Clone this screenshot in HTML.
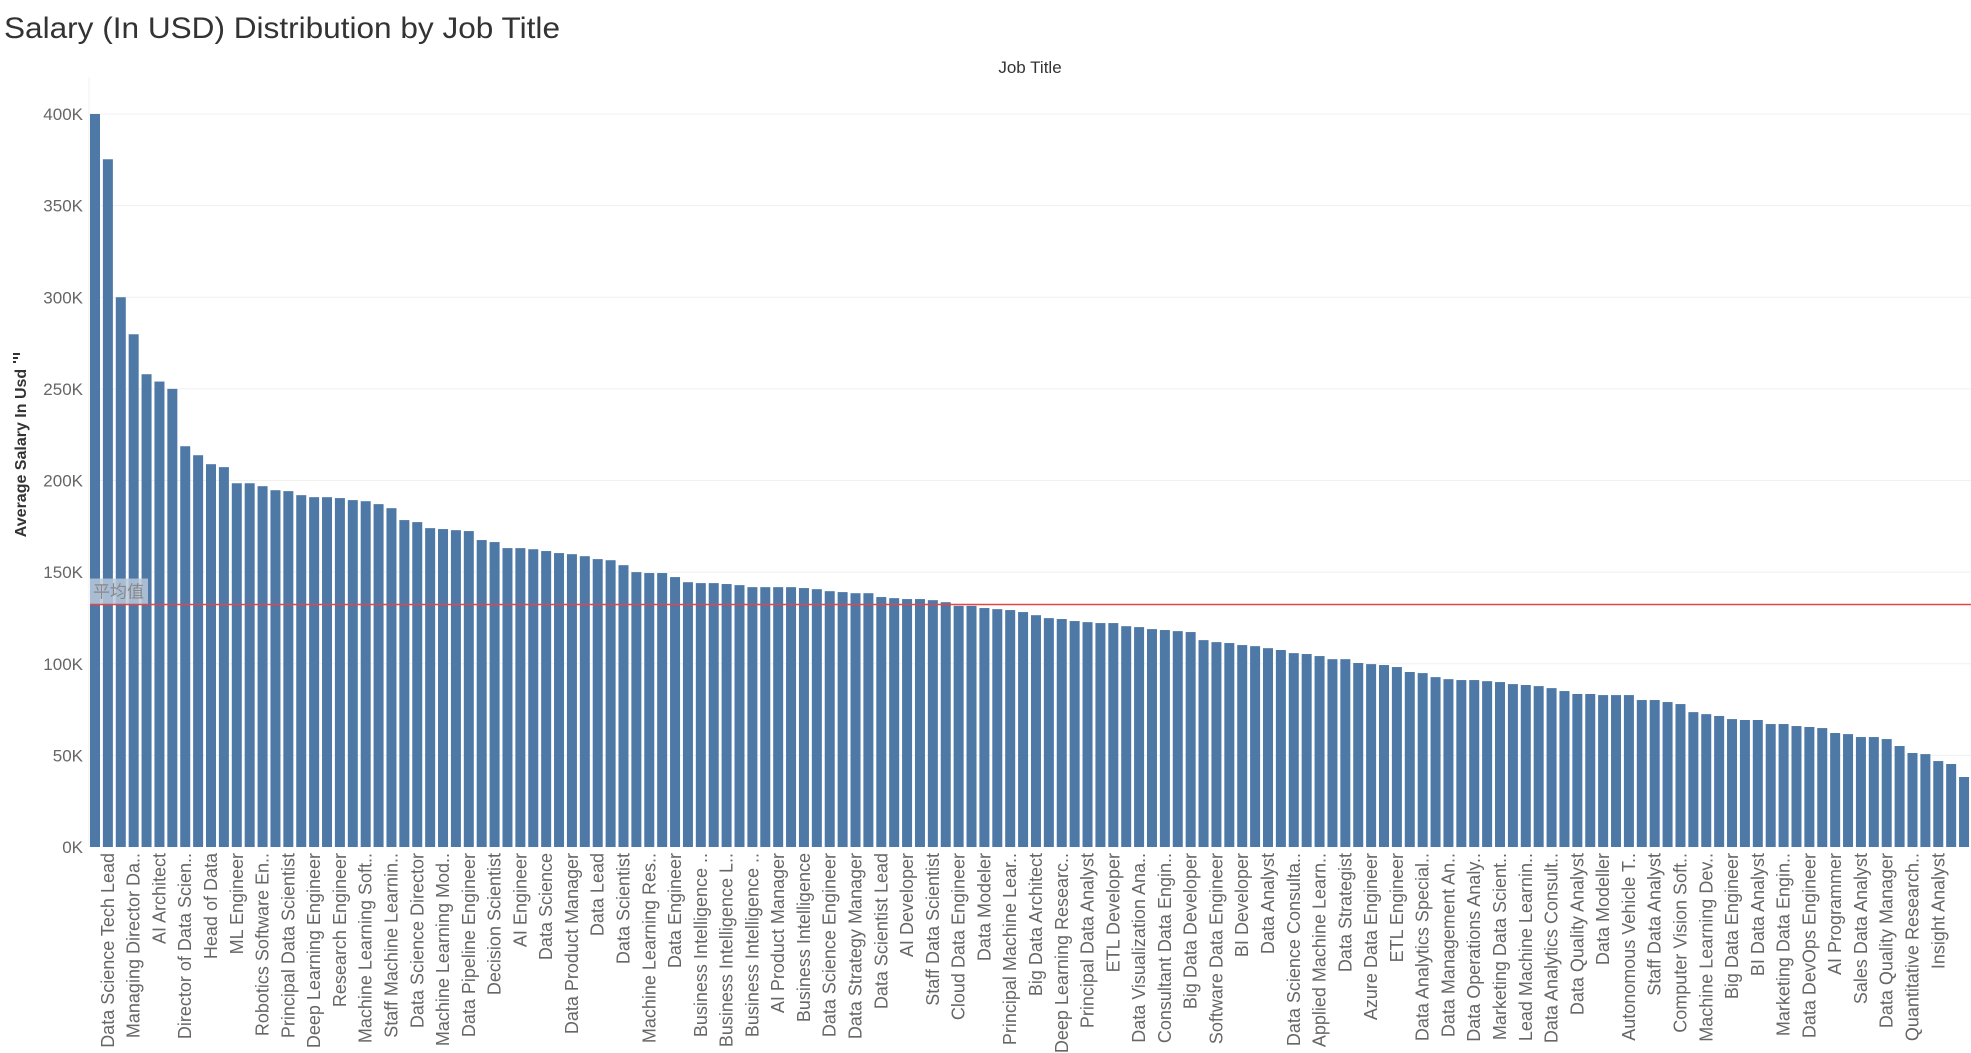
<!DOCTYPE html>
<html><head><meta charset="utf-8"><style>
html,body{margin:0;padding:0;background:#fff;}
svg{display:block;font-family:"Liberation Sans","Noto Sans CJK SC",sans-serif;}
</style></head><body>
<svg id="chart" width="1971" height="1053" viewBox="0 0 1971 1053" xmlns="http://www.w3.org/2000/svg">
<text x="4" y="38" font-size="30" fill="#333" textLength="556" lengthAdjust="spacingAndGlyphs">Salary (In USD) Distribution by Job Title</text>
<text x="1030" y="73" font-size="17" fill="#333" text-anchor="middle">Job Title</text>
<g transform="translate(26,453) rotate(-90)">
<text x="0" y="0" font-size="16" font-weight="bold" fill="#333" text-anchor="middle">Average Salary In Usd</text>
</g>
<g fill="#333">
<rect x="13" y="353" width="7" height="2"/><rect x="13" y="357" width="5" height="2"/><rect x="13" y="361" width="3" height="2"/>
</g>
<g id="grid"></g>
<g id="bars"></g>
<g id="avg"></g>
<g id="yticks"></g>
<g id="xlabels"></g>
</svg>
<script>
const categories = ["","Data Science Tech Lead","","Managing Director Da..","","AI Architect","","Director of Data Scien..","","Head of Data","","ML Engineer","","Robotics Software En..","","Principal Data Scientist","","Deep Learning Engineer","","Research Engineer","","Machine Learning Soft..","","Staff Machine Learnin..","","Data Science Director","","Machine Learning Mod..","","Data Pipeline Engineer","","Decision Scientist","","AI Engineer","","Data Science","","Data Product Manager","","Data Lead","","Data Scientist","","Machine Learning Res..","","Data Engineer","","Business Intelligence ..","","Business Intelligence L..","","Business Intelligence ..","","AI Product Manager","","Business Intelligence","","Data Science Engineer","","Data Strategy Manager","","Data Scientist Lead","","AI Developer","","Staff Data Scientist","","Cloud Data Engineer","","Data Modeler","","Principal Machine Lear..","","Big Data Architect","","Deep Learning Researc..","","Principal Data Analyst","","ETL Developer","","Data Visualization Ana..","","Consultant Data Engin..","","Big Data Developer","","Software Data Engineer","","BI Developer","","Data Analyst","","Data Science Consulta..","","Applied Machine Learn..","","Data Strategist","","Azure Data Engineer","","ETL Engineer","","Data Analytics Special..","","Data Management An..","","Data Operations Analy..","","Marketing Data Scient..","","Lead Machine Learnin..","","Data Analytics Consult..","","Data Quality Analyst","","Data Modeller","","Autonomous Vehicle T..","","Staff Data Analyst","","Computer Vision Soft..","","Machine Learning Dev..","","Big Data Engineer","","BI Data Analyst","","Marketing Data Engin..","","Data DevOps Engineer","","AI Programmer","","Sales Data Analyst","","Data Quality Manager","","Quantitative Research..","","Insight Analyst",""];
const salaries = [400,375.3,300,279.8,258,254,250,218.7,213.8,208.9,207.3,198.5,198.5,196.9,194.7,194.2,192,190.9,190.9,190.4,189.3,188.7,187.1,184.9,178.4,177.3,174,173.5,172.9,172.4,167.5,166.4,163.1,163.1,162.5,161.5,160.4,159.8,158.7,157.1,156.5,153.8,150,149.5,149.5,147.3,144.5,144,144,143.5,142.9,141.8,141.8,141.8,141.8,141.3,140.7,139.6,139.1,138.5,138.5,136.4,135.8,135.3,135.3,134.7,133.6,131.6,131.6,130.4,129.8,129.3,128.2,126.5,124.9,124.4,123.3,122.7,122.2,122.2,120.5,120,118.9,118.4,117.8,117.3,112.9,111.8,111.3,110.2,109.6,108.5,107.5,105.8,105.3,104.2,102.5,102.5,100.4,99.8,99.3,98.2,95.5,94.9,92.7,91.6,91.1,91.1,90.5,90,88.9,88.4,87.8,86.7,85.1,83.5,83.5,82.9,82.9,82.9,80.2,80.2,79.1,78,73.6,72.5,71.5,69.8,69.3,69.3,67.1,67.1,66,65.5,64.9,62.2,61.6,60,60,58.9,55.1,51.3,50.7,46.9,45.3,38.2];
const yTicks = [0,50,100,150,200,250,300,350,400];
const yTickLabels = ["0K","50K","100K","150K","200K","250K","300K","350K","400K"];
const averageValue = [132.3];
const averageLabel = ["平均值"];

const NS = "http://www.w3.org/2000/svg";
const plotLeft = 89, plotRight = 1971, y0 = 847, yTop = 114;
const yMax = 400;
function yScale(v){ return y0 - (v / yMax) * (y0 - yTop); }
const pitch = 12.89, barW = 10, firstX = 90;
function xScale(i){ return firstX + i * pitch; }
function mk(tag, attrs, parent){ const e = document.createElementNS(NS, tag); for (const k in attrs) e.setAttribute(k, attrs[k]); parent.appendChild(e); return e; }

const grid = document.getElementById('grid');
const vline = mk('line', {x1: plotLeft, x2: plotLeft, y1: 77, y2: y0, stroke: '#f0f0f0', 'stroke-width': 1}, grid);


const yt = document.getElementById('yticks');
yTicks.forEach((t, i) => {
  const y = yScale(t);
  if (t > 0) {
    const g = mk('line', {x1: plotLeft, x2: plotRight, y1: y, y2: y, stroke: '#f0f0f0', 'stroke-width': 1}, grid);
    
    
  }
  const tx = mk('text', {x: 83, y: y + 6, 'font-size': 17, fill: '#666', 'text-anchor': 'end'}, yt);
  
  
  tx.textContent = yTickLabels[i];
});

const bars = document.getElementById('bars');
salaries.forEach((v, i) => {
  const y = yScale(v);
  const r = mk('rect', {x: xScale(i), y: y, width: barW, height: y0 - y, fill: '#4e79a7'}, bars);
  
  
});

const xl = document.getElementById('xlabels');
categories.forEach((c, i) => {
  if (!c) return;
  const cx = xScale(i) + barW / 2 + 6;
  const t = mk('text', {x: cx, y: 853, 'font-size': 18, fill: '#666', 'text-anchor': 'end', transform: 'rotate(-90 ' + cx + ' 853)'}, xl);
  
  
  t.textContent = c;
});

const avg = document.getElementById('avg');
const ay = yScale(averageValue[0]);
const box = mk('rect', {x: 90, y: ay - 26, width: 58, height: 26, fill: '#b8c8da', opacity: 0.85}, avg);


const al = mk('text', {x: 93, y: ay - 7, 'font-size': 17, fill: '#888'}, avg);


al.textContent = averageLabel[0];
const line = mk('line', {x1: 90, x2: plotRight, y1: ay, y2: ay, stroke: '#e0464c', 'stroke-width': 1.5}, avg);


</script>
</body></html>
